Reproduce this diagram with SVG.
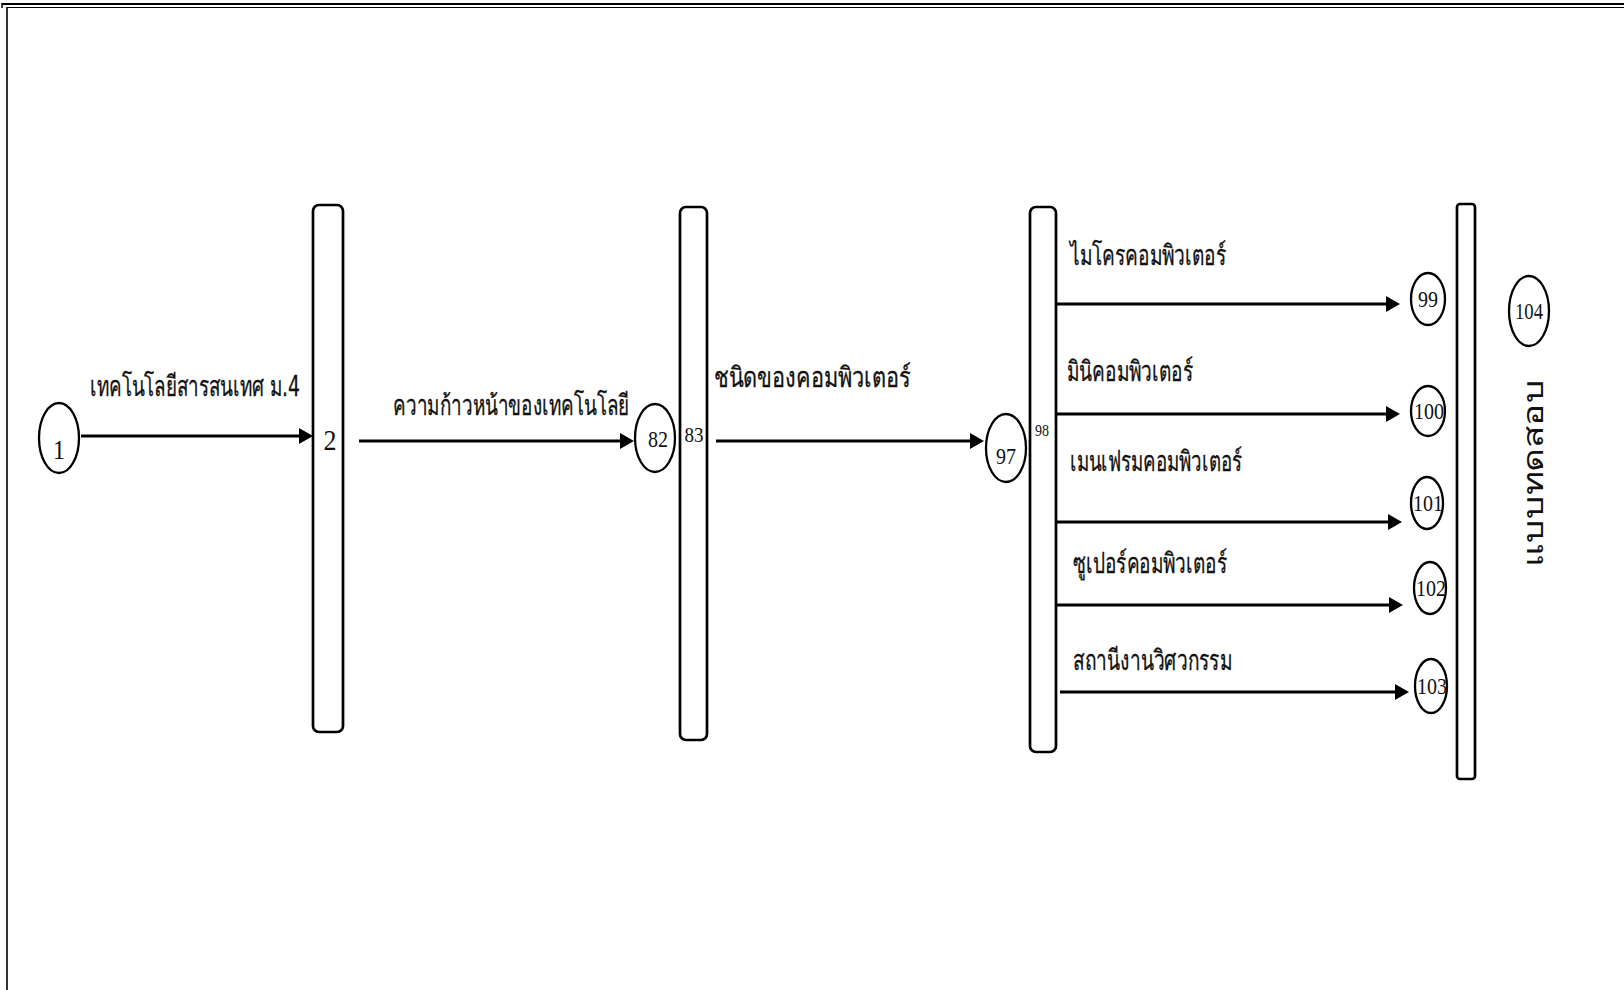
<svg xmlns="http://www.w3.org/2000/svg" width="1624" height="990" viewBox="0 0 1624 990">
  <defs>
    <marker id="arrow" viewBox="0 0 14 16" refX="8" refY="8" markerWidth="14" markerHeight="16" markerUnits="userSpaceOnUse" orient="auto">
      <path d="M0,0 L14,8 L0,16 z" fill="#000"/>
    </marker>
    <style>
      .frame { stroke: #000; fill: none; }
      .node { fill: #fff; stroke: #000; stroke-width: 2.3; }
      .bar { fill: #fff; stroke: #000; stroke-width: 2.7; }
      .edge { stroke: #000; stroke-width: 2.8; fill: none; marker-end: url(#arrow); }
      .num { font-family: "Liberation Serif", "DejaVu Serif", serif; fill: #111; text-anchor: middle; }
      .lbl { font-family: "DejaVu Sans", "Noto Sans", sans-serif; font-size: 28px; fill: #111; stroke: #111; stroke-width: 0.3; }
      .vlbl { font-family: "DejaVu Sans", "Noto Sans", sans-serif; font-size: 28px; fill: #111; text-anchor: middle; }
    </style>
  </defs>

  <!-- page border -->
  <g id="frame">
    <line class="frame" x1="2" y1="4" x2="1624" y2="4" stroke-width="2.2"/>
    <line class="frame" x1="7" y1="7.5" x2="1624" y2="7.5" stroke-width="1.2"/>
    <line class="frame" x1="2" y1="3" x2="2" y2="8" stroke-width="1.5"/>
    <line class="frame" x1="7" y1="7" x2="7" y2="990" stroke-width="1.6"/>
  </g>

  <!-- connectors -->
  <g id="connectors">
    <path class="edge" d="M81 436 H307"/>
    <path class="edge" d="M359 441 H628"/>
    <path class="edge" d="M716 441 H978"/>
    <path class="edge" d="M1049 304 H1394"/>
    <path class="edge" d="M1049 414 H1394"/>
    <path class="edge" d="M1053 522 H1396"/>
    <path class="edge" d="M1057 605 H1397"/>
    <path class="edge" d="M1060 692 H1403"/>
  </g>

  <!-- edge labels -->
  <g id="labels">
    <text class="lbl" x="90" y="396" textLength="210" lengthAdjust="spacingAndGlyphs">เทคโนโลยีสารสนเทศ ม.4</text>
    <text class="lbl" x="393" y="415" textLength="236" lengthAdjust="spacingAndGlyphs">ความก้าวหน้าของเทคโนโลยี</text>
    <text class="lbl" x="714" y="387" textLength="197" lengthAdjust="spacingAndGlyphs">ชนิดของคอมพิวเตอร์</text>
    <text class="lbl" x="1070" y="265" textLength="156" lengthAdjust="spacingAndGlyphs">ไมโครคอมพิวเตอร์</text>
    <text class="lbl" x="1067" y="381" textLength="126" lengthAdjust="spacingAndGlyphs">มินิคอมพิวเตอร์</text>
    <text class="lbl" x="1070" y="471" textLength="172" lengthAdjust="spacingAndGlyphs">เมนเฟรมคอมพิวเตอร์</text>
    <text class="lbl" x="1073" y="573" textLength="154" lengthAdjust="spacingAndGlyphs">ซูเปอร์คอมพิวเตอร์</text>
    <text class="lbl" x="1073" y="670" textLength="159" lengthAdjust="spacingAndGlyphs">สถานีงานวิศวกรรม</text>
  </g>

  <g id="n1">
    <ellipse class="node" cx="59" cy="438" rx="20" ry="35"/>
    <text class="num" x="59" y="459" font-size="28" textLength="12" lengthAdjust="spacingAndGlyphs">1</text>
  </g>

  <g id="n2">
    <rect class="bar" x="313" y="205" width="30" height="527" rx="6"/>
    <text class="num" x="330" y="450" font-size="30" textLength="13" lengthAdjust="spacingAndGlyphs">2</text>
  </g>

  <g id="n82">
    <ellipse class="node" cx="655" cy="438" rx="20" ry="34"/>
    <text class="num" x="658" y="447" font-size="23" textLength="20" lengthAdjust="spacingAndGlyphs">82</text>
  </g>

  <g id="n83">
    <rect class="bar" x="680" y="207" width="27" height="533" rx="6"/>
    <text class="num" x="694" y="442" font-size="21" textLength="19" lengthAdjust="spacingAndGlyphs">83</text>
  </g>

  <g id="n97">
    <ellipse class="node" cx="1006" cy="448" rx="20" ry="34"/>
    <text class="num" x="1006" y="464" font-size="23" textLength="20" lengthAdjust="spacingAndGlyphs">97</text>
  </g>

  <g id="n98">
    <rect class="bar" x="1030" y="207" width="26" height="545" rx="6"/>
    <text class="num" x="1042" y="436" font-size="17" textLength="14" lengthAdjust="spacingAndGlyphs">98</text>
  </g>

  <g id="n99">
    <ellipse class="node" cx="1428" cy="299" rx="17" ry="26"/>
    <text class="num" x="1428" y="307" font-size="23" textLength="20" lengthAdjust="spacingAndGlyphs">99</text>
  </g>

  <g id="n100">
    <ellipse class="node" cx="1428" cy="411" rx="17" ry="25"/>
    <text class="num" x="1429" y="419" font-size="23" textLength="30" lengthAdjust="spacingAndGlyphs">100</text>
  </g>

  <g id="n101">
    <ellipse class="node" cx="1427" cy="503" rx="16" ry="26"/>
    <text class="num" x="1428" y="511" font-size="23" textLength="30" lengthAdjust="spacingAndGlyphs">101</text>
  </g>

  <g id="n102">
    <ellipse class="node" cx="1430" cy="588" rx="16" ry="26"/>
    <text class="num" x="1431" y="596" font-size="23" textLength="30" lengthAdjust="spacingAndGlyphs">102</text>
  </g>

  <g id="n103">
    <ellipse class="node" cx="1431" cy="686" rx="16" ry="27"/>
    <text class="num" x="1432" y="694" font-size="23" textLength="30" lengthAdjust="spacingAndGlyphs">103</text>
  </g>

  <g id="n104-bar">
    <rect class="bar" x="1457" y="204" width="18" height="575" rx="3"/>
  </g>

  <g id="n104">
    <ellipse class="node" cx="1529" cy="311" rx="20" ry="35"/>
    <text class="num" x="1529" y="319" font-size="23" textLength="28" lengthAdjust="spacingAndGlyphs">104</text>
  </g>

  <g id="title">
    <text class="vlbl" transform="translate(1543,473) rotate(-90)" x="0" y="0" textLength="187" lengthAdjust="spacingAndGlyphs">แบบทดสอบ</text>
  </g>
</svg>
